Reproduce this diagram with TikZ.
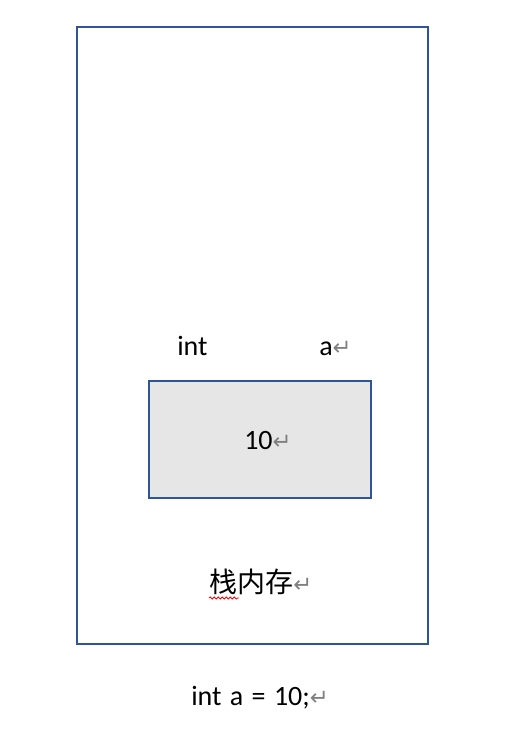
\documentclass[tikz,border=0pt]{standalone}
\usepackage{fontspec}
\setmainfont{Carlito}
\newfontfamily\cjkfont{Noto Sans CJK SC}
\newfontfamily\symfont{DejaVu Sans}
\usetikzlibrary{decorations.pathmorphing}
\definecolor{frameblue}{HTML}{2F5597}
\definecolor{boxgray}{HTML}{E6E6E6}
\newcommand{\pmark}{{\symfont\fontsize{17}{17}\selectfont\textcolor{gray}{↵}}}
\newcommand{\wsp}{\hspace{0.3em}}
\tikzset{
  lbl/.style={anchor=base west, inner sep=0pt, font=\fontsize{21}{25}\selectfont},
  framebox/.style={draw=frameblue, line width=1.5pt},
}
\begin{document}
\begin{tikzpicture}[x=0.75pt,y=-0.75pt]
\useasboundingbox (0,0) rectangle (505,752);
\draw[framebox] (77,27) rectangle (428,644);
\draw[framebox, fill=boxgray] (149,381) rectangle (371,498);
\node[lbl] (int) at (177,355) {int};
\node[lbl] (a) at (319,355) {a\pmark};
\node[lbl] (ten) at (244,449) {10\pmark};
\node[lbl] (stack) at (209,592) {\cjkfont 栈内存\pmark};
\node[lbl] (code) at (191,705) {int\wsp a\wsp =\wsp 10;\pmark};
\draw[red, line width=0.6pt, decorate, decoration={snake, amplitude=0.8pt, segment length=3pt}] (209,598) -- (239,598);
\end{tikzpicture}
\end{document}
